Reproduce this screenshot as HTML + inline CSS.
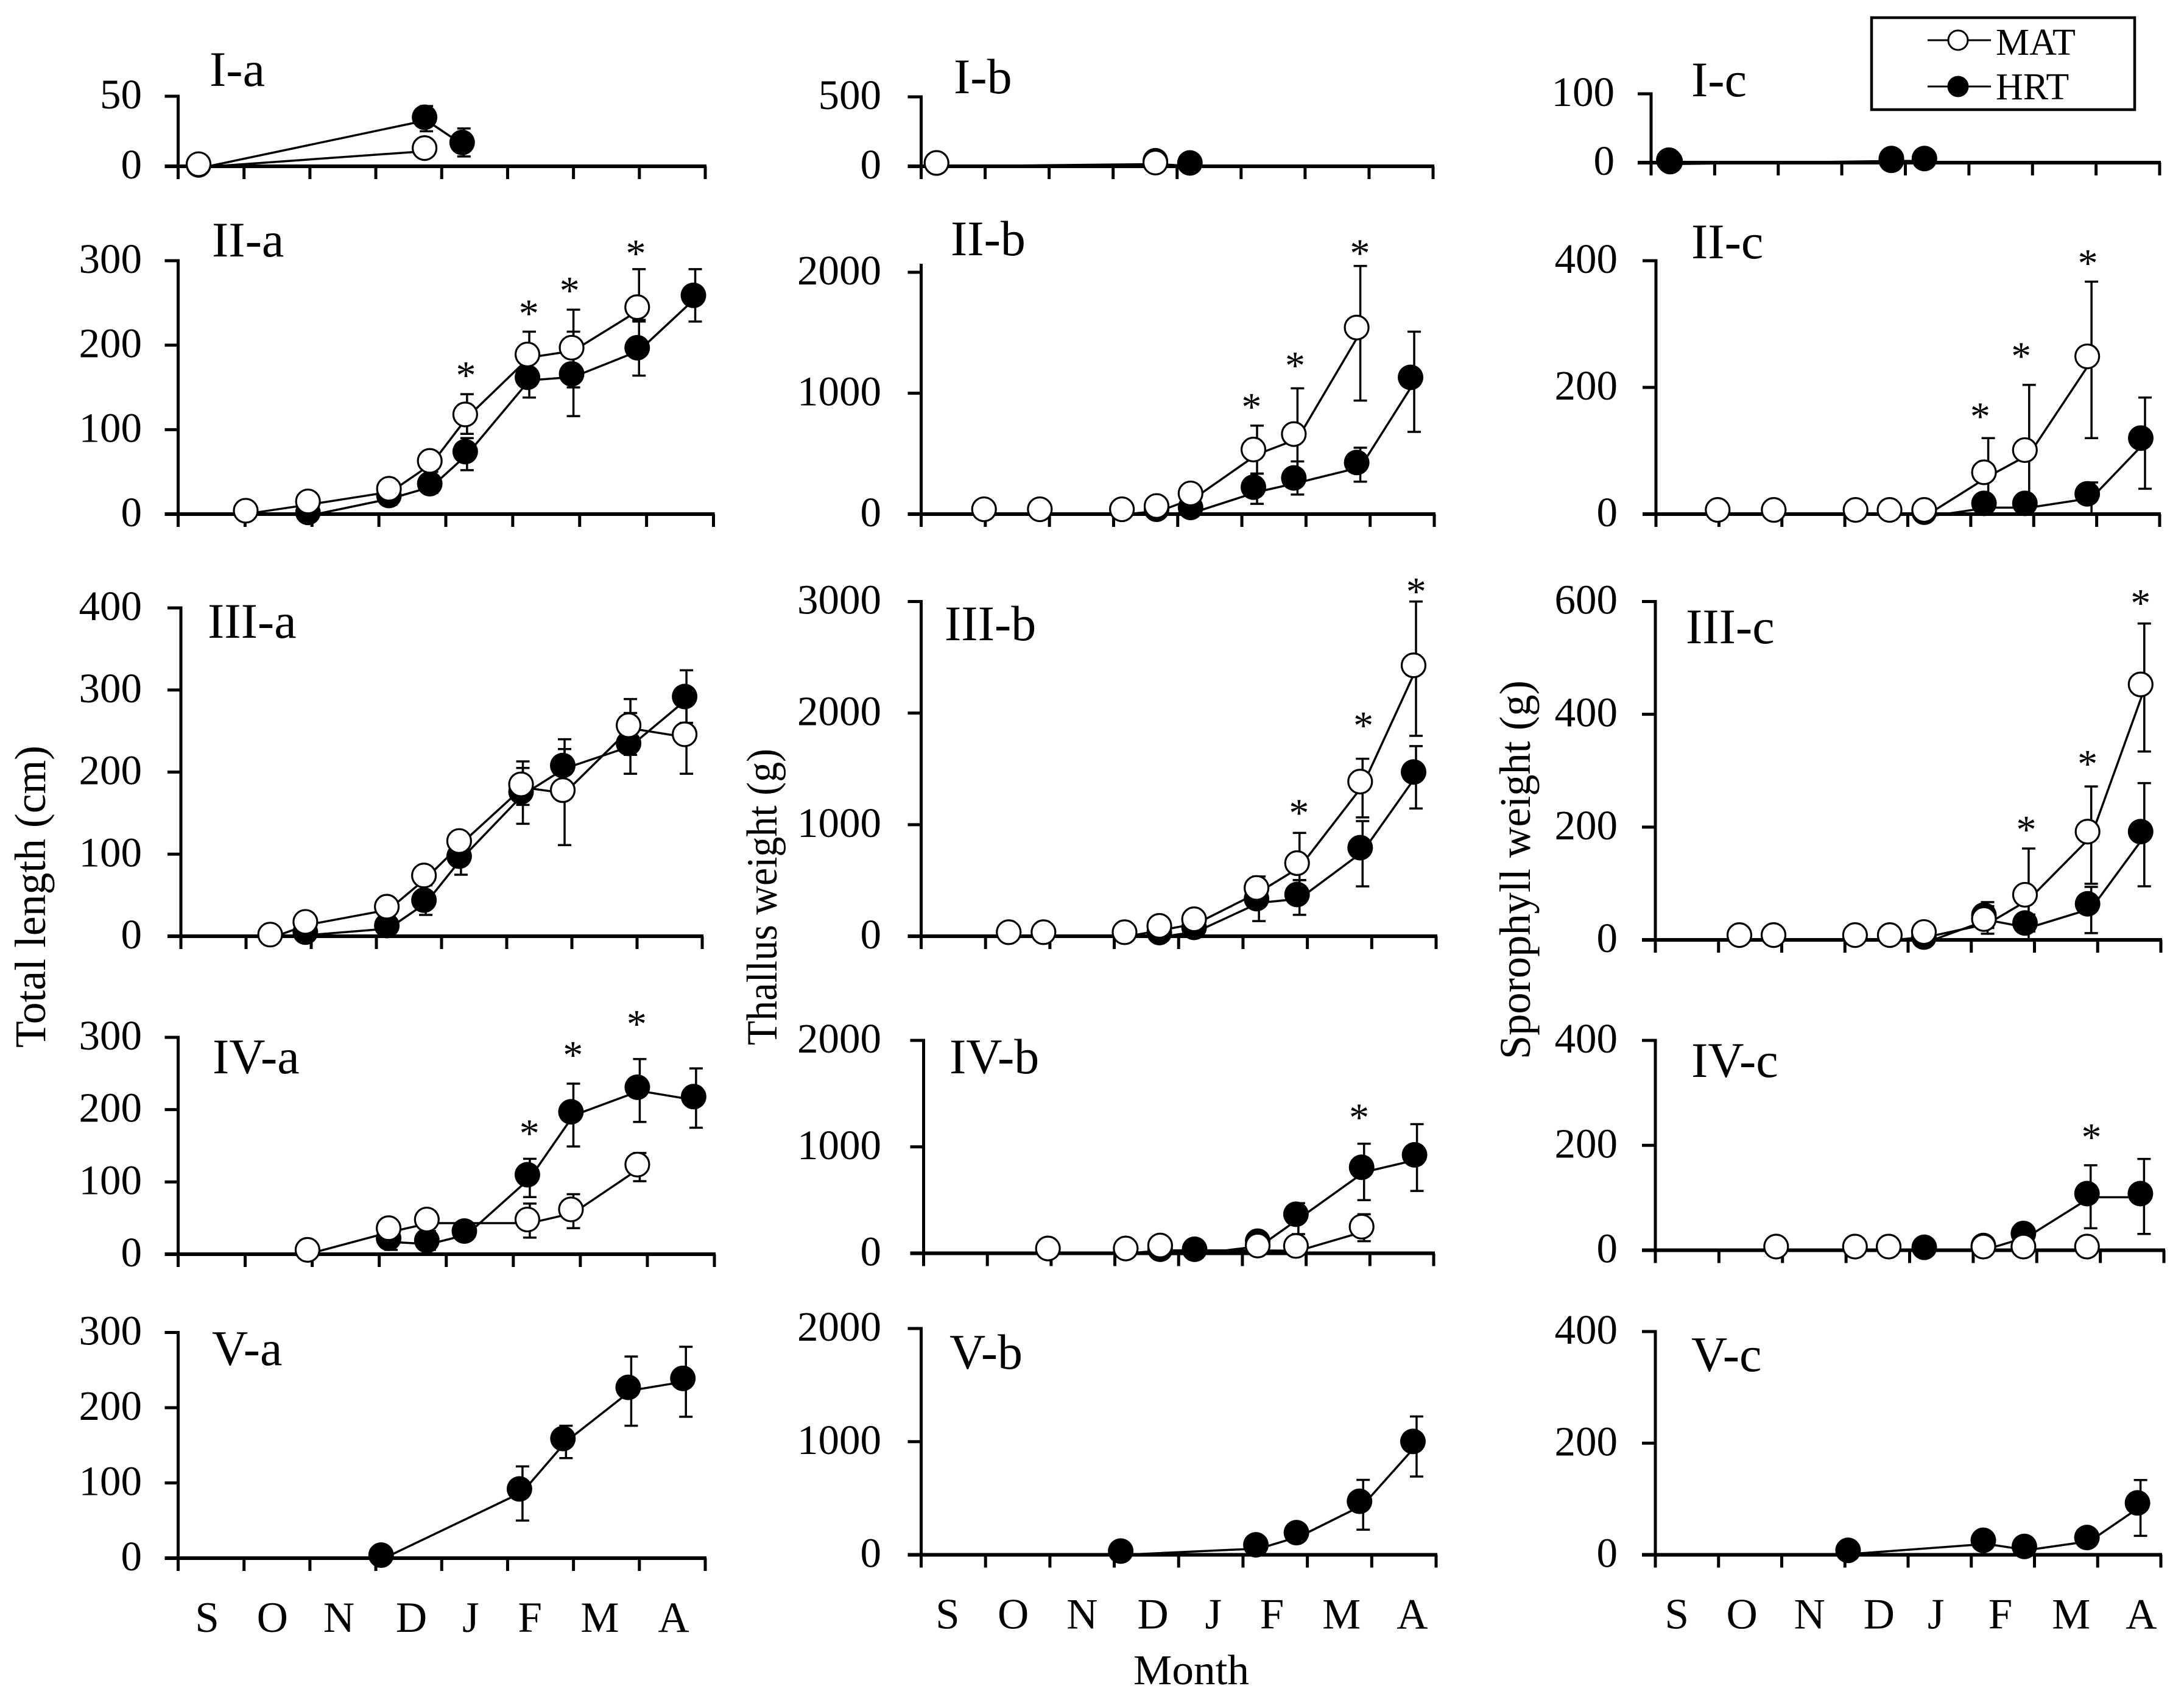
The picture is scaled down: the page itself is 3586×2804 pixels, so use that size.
<!DOCTYPE html>
<html lang="en">
<head>
<meta charset="utf-8">
<title>Seasonal growth of MAT and HRT: total length, thallus weight and sporophyll weight</title>
<style>
html,body{margin:0;padding:0;background:#fff}
svg{display:block}
text{font-family:"Liberation Serif","Times New Roman",serif;fill:#000}
</style>
</head>
<body>
<svg id="chart" xmlns="http://www.w3.org/2000/svg" width="3586" height="2804" viewBox="0 0 3586 2804"></svg>
<script>
// Values are in axis units: month position (0 = start of Sept, 8 = end of April) and measured value.
const Ia_mat_m=[0.31,3.74], Ia_mat_v=[1.5,13], Ia_mat_hi=[null,null], Ia_mat_lo=[null,null];
const Ia_hrt_m=[0.31,3.74,4.31], Ia_hrt_v=[1,35,17], Ia_hrt_hi=[null,43,27], Ia_hrt_lo=[null,25,7];
const IIa_mat_m=[1.01,1.94,3.15,3.76,4.29,5.22,5.88,6.86], IIa_mat_v=[4,15,30,63,118,189,197,245];
const IIa_mat_hi=[null,null,41,86,142,216,242,290], IIa_mat_lo=[null,null,null,null,95,162,150,228];
const IIa_hrt_m=[1.94,3.15,3.76,4.29,5.22,5.88,6.86,7.7], IIa_hrt_v=[2,22,36,74,162,166,197,259];
const IIa_hrt_hi=[null,33,50,90,186,216,230,290], IIa_hrt_lo=[null,11,25,52,138,116,164,228];
const IIIa_mat_m=[1.37,1.91,3.16,3.73,4.27,5.22,5.86,6.87,7.73], IIIa_mat_v=[2,17.5,36,74,116,185,178,257,246];
const IIIa_mat_hi=[null,null,49,98,140,205,228,289,290], IIIa_mat_lo=[null,null,null,null,null,160,111,221,198];
const IIIa_hrt_m=[1.91,3.16,3.73,4.27,5.22,5.86,6.87,7.73], IIIa_hrt_v=[5,13,44,97.5,176,208,235,292];
const IIIa_hrt_hi=[null,null,62,120,213,240,272,324], IIIa_hrt_lo=[null,null,26,75,137,175,198,260];
const IVa_mat_m=[1.93,3.14,3.71,5.21,5.86,6.85], IVa_mat_v=[6,36,48,48,62,124];
const IVa_mat_hi=[null,null,66,70,83,140], IVa_mat_lo=[null,null,null,23,36,101];
const IVa_hrt_m=[3.14,3.71,4.27,5.21,5.86,6.85,7.69], IVa_hrt_v=[22,19,32,110,197,231,218];
const IVa_hrt_hi=[38,32,null,132,236,270,257], IVa_hrt_lo=[6,6,null,79,149,183,175];
const Va_mat_m=[], Va_mat_v=[], Va_mat_hi=[], Va_mat_lo=[];
const Va_hrt_m=[3.08,5.18,5.84,6.83,7.66], Va_hrt_v=[4,92,159,227,239];
const Va_hrt_hi=[null,122,176,268,281], Va_hrt_lo=[null,50,133,176,188];

const Ib_mat_m=[0.24,3.66], Ib_mat_v=[24,27], Ib_mat_hi=[null,null], Ib_mat_lo=[null,null];
const Ib_hrt_m=[0.24,3.66,4.2], Ib_hrt_v=[24,40,24], Ib_hrt_hi=[null,null,null], Ib_hrt_lo=[null,null,null];
const IIb_mat_m=[0.98,1.85,3.13,3.67,4.2,5.18,5.81,6.79], IIb_mat_v=[40,40,40,67,171,534,662,1543];
const IIb_mat_hi=[null,null,null,null,null,732,1040,2052], IIb_mat_lo=[null,null,null,null,null,335,284,939];
const IIb_hrt_m=[3.67,4.2,5.18,5.81,6.79,7.63], IIb_hrt_v=[40,55,223,299,427,1131];
const IIb_hrt_hi=[null,null,335,436,549,1509], IIb_hrt_lo=[null,null,85,162,268,680];
const IIIb_mat_m=[1.36,1.9,3.16,3.7,4.24,5.21,5.84,6.82,7.65], IIIb_mat_v=[36,36,36,93,152,433,655,1386,2428];
const IIIb_mat_hi=[null,null,null,null,null,null,926,1591,3000], IIIb_mat_lo=[null,null,null,null,null,null,503,1065,1796];
const IIIb_hrt_m=[3.7,4.24,5.21,5.84,6.82,7.65], IIIb_hrt_v=[33,79,337,374,794,1472];
const IIIb_hrt_hi=[null,null,536,503,1032,1704], IIIb_hrt_lo=[null,null,136,192,447,1145];
const IVb_mat_m=[1.95,3.17,3.71,5.24,5.84,6.87], IVb_mat_v=[45,45,73,73,69,250];
const IVb_mat_hi=[null,null,null,null,null,367], IVb_mat_lo=[null,null,null,null,null,114];
const IVb_hrt_m=[3.71,4.25,5.24,5.84,6.87,7.7], IVb_hrt_v=[38,38,114,367,808,925];
const IVb_hrt_hi=[null,null,null,471,1029,1213], IVb_hrt_lo=[null,null,null,180,499,586];
const Vb_mat_m=[], Vb_mat_v=[], Vb_mat_hi=[], Vb_mat_lo=[];
const Vb_hrt_m=[3.1,5.2,5.83,6.81,7.64], Vb_hrt_v=[33,88,196,473,1002];
const Vb_hrt_hi=[null,null,null,662,1223], Vb_hrt_lo=[null,null,null,222,692];

const Ic_mat_m=[0.28,3.78], Ic_mat_v=[3.5,3.5], Ic_mat_hi=[null,null], Ic_mat_lo=[null,null];
const Ic_hrt_m=[0.3,3.78,4.3], Ic_hrt_v=[1.5,6,6], Ic_hrt_hi=[null,null,null], Ic_hrt_lo=[null,null,null];
const IIc_mat_m=[0.98,1.87,3.17,3.71,4.26,5.21,5.86,6.85], IIc_mat_v=[6.6,6.6,6.6,6.6,6.6,66,101,249];
const IIc_mat_hi=[null,null,null,null,null,120,204,367], IIc_mat_lo=[null,null,null,null,null,13,17,120];
const IIc_hrt_m=[4.26,5.21,5.86,6.85,7.7], IIc_hrt_v=[3,17,17,32,120];
const IIc_hrt_hi=[null,null,null,50,184], IIc_hrt_lo=[null,null,null,0,40];
const IIIc_mat_m=[1.33,1.87,3.16,3.71,4.25,5.2,5.85,6.84,7.68], IIIc_mat_v=[8.5,8.5,8.5,8.5,14,37,80,192,453];
const IIIc_mat_hi=[null,null,null,null,null,60,162,272,561], IIIc_mat_lo=[null,null,null,null,null,11,0,99.5,334];
const IIIc_hrt_m=[4.25,5.2,5.85,6.84,7.68], IIIc_hrt_v=[5,44,30,64,192];
const IIIc_hrt_hi=[null,67,45,94,278], IIIc_hrt_lo=[null,21,15,12,95];
const IVc_mat_m=[1.9,3.14,3.67,5.16,5.79,6.79], IVc_mat_v=[7,7,7,7,7,7];
const IVc_mat_hi=[null,null,null,null,null,null], IVc_mat_lo=[null,null,null,null,null,null];
const IVc_hrt_m=[4.23,5.16,5.79,6.79,7.63], IVc_hrt_v=[5.6,9,32,108,108];
const IVc_hrt_hi=[null,null,null,162,174], IVc_hrt_lo=[null,null,null,42,31];
const Vc_mat_m=[], Vc_mat_v=[], Vc_mat_hi=[], Vc_mat_lo=[];
const Vc_hrt_m=[3.05,5.19,5.84,6.83,7.63], Vc_hrt_v=[8,26,15,31,93];
const Vc_hrt_hi=[null,null,null,null,134], Vc_hrt_lo=[null,null,null,null,34];

// Significance markers: month position and value level.
const IIa_star_m=[4.3,5.24,5.85,6.84], IIa_star_v=[171,244,271,315];
const IIb_star_m=[5.15,5.83,6.84], IIb_star_v=[933,1274,2204];
const IIc_star_m=[5.15,5.8,6.86], IIc_star_v=[163,258,405];
const IIIb_star_m=[5.87,6.87,7.69], IIIb_star_v=[1154,1938,3139];
const IIIc_star_m=[5.87,6.84,7.68], IIIc_star_v=[205,322,607];
const IVa_star_m=[5.24,5.89,6.84], IVa_star_v=[175,283,326];
const IVb_star_m=[6.83], IVb_star_v=[1327];
const IVc_star_m=[6.86], IVc_star_v=[226];

// Tick labels.
const ticks_Ia=[0,50], ticks_300=[0,100,200,300], ticks_400a=[0,100,200,300,400];
const ticks_Ib=[0,500], ticks_2000=[0,1000,2000], ticks_3000=[0,1000,2000,3000];
const ticks_Ic=[0,100], ticks_400c=[0,200,400], ticks_600=[0,200,400,600];
const monthNames=['S','O','N','D','J','F','M','A'];
const monthLabelPos_a=[0.44,1.43,2.44,3.54,4.44,5.34,6.4,7.52];
const monthLabelPos_b=[0.41,1.43,2.5,3.6,4.54,5.45,6.53,7.63];
const monthLabelPos_c=[0.34,1.37,2.44,3.54,4.44,5.46,6.58,7.69];

// Panel frames: x0/x1 axis ends, top = pixel of the largest tick, y0 = pixel of zero.
// dx/dy: the source figure's markers sit slightly up-left of the line vertices and error bars.
const panels=[
 {id:'I-a',x0:292.5,x1:1158,top:158,y0:273,ticks:ticks_Ia,lx:344,ly:141,tr:233,dx:3,dy:5,mat:[Ia_mat_m,Ia_mat_v,Ia_mat_hi,Ia_mat_lo],hrt:[Ia_hrt_m,Ia_hrt_v,Ia_hrt_hi,Ia_hrt_lo],stars:null},
 {id:'II-a',x0:292.5,x1:1171.5,top:428,y0:844,ticks:ticks_300,lx:348,ly:421,tr:233,dx:3,dy:5,mat:[IIa_mat_m,IIa_mat_v,IIa_mat_hi,IIa_mat_lo],hrt:[IIa_hrt_m,IIa_hrt_v,IIa_hrt_hi,IIa_hrt_lo],stars:[IIa_star_m,IIa_star_v]},
 {id:'III-a',x0:297,x1:1153,top:998,y0:1537,ticks:ticks_400a,lx:341,ly:1047,tr:233,dx:3,dy:5,mat:[IIIa_mat_m,IIIa_mat_v,IIIa_mat_hi,IIIa_mat_lo],hrt:[IIIa_hrt_m,IIIa_hrt_v,IIIa_hrt_hi,IIIa_hrt_lo],stars:null},
 {id:'IV-a',x0:292.5,x1:1173,top:1703,y0:2059,ticks:ticks_300,lx:349,ly:1762,tr:233,dx:4,dy:6,mat:[IVa_mat_m,IVa_mat_v,IVa_mat_hi,IVa_mat_lo],hrt:[IVa_hrt_m,IVa_hrt_v,IVa_hrt_hi,IVa_hrt_lo],stars:[IVa_star_m,IVa_star_v]},
 {id:'V-a',x0:292.5,x1:1158,top:2187.5,y0:2558,ticks:ticks_300,lx:348,ly:2241,tr:233,dx:5,dy:5,mat:[Va_mat_m,Va_mat_v,Va_mat_hi,Va_mat_lo],hrt:[Va_hrt_m,Va_hrt_v,Va_hrt_hi,Va_hrt_lo],stars:null,months:monthLabelPos_a},
 {id:'I-b',x0:1512.5,x1:2353,top:159,y0:273,ticks:ticks_Ib,lx:1566,ly:153,tr:1447,dx:6,dy:5.5,mat:[Ib_mat_m,Ib_mat_v,Ib_mat_hi,Ib_mat_lo],hrt:[Ib_hrt_m,Ib_hrt_v,Ib_hrt_hi,Ib_hrt_lo],stars:null},
 {id:'II-b',x0:1512.5,x1:2355,top:447,y0:844,axisTop:433,ticks:ticks_2000,lx:1561,ly:419,tr:1447,dx:6,dy:8,mat:[IIb_mat_m,IIb_mat_v,IIb_mat_hi,IIb_mat_lo],hrt:[IIb_hrt_m,IIb_hrt_v,IIb_hrt_hi,IIb_hrt_lo],stars:[IIb_star_m,IIb_star_v]},
 {id:'III-b',x0:1512.5,x1:2358,top:987.5,y0:1537,ticks:ticks_3000,lx:1551,ly:1051,tr:1447,dx:4,dy:7,mat:[IIIb_mat_m,IIIb_mat_v,IIIb_mat_hi,IIIb_mat_lo],hrt:[IIIb_hrt_m,IIIb_hrt_v,IIIb_hrt_hi,IIIb_hrt_lo],stars:[IIIb_star_m,IIIb_star_v]},
 {id:'IV-b',x0:1516.5,x1:2354,top:1708,y0:2057.5,ticks:ticks_2000,lx:1559,ly:1762,tr:1447,dx:4,dy:8,mat:[IVb_mat_m,IVb_mat_v,IVb_mat_hi,IVb_mat_lo],hrt:[IVb_hrt_m,IVb_hrt_v,IVb_hrt_hi,IVb_hrt_lo],stars:[IVb_star_m,IVb_star_v]},
 {id:'V-b',x0:1512.5,x1:2358,top:2181,y0:2552.5,ticks:ticks_2000,lx:1559,ly:2247,tr:1447,dx:6,dy:6,mat:[Vb_mat_m,Vb_mat_v,Vb_mat_hi,Vb_mat_lo],hrt:[Vb_hrt_m,Vb_hrt_v,Vb_hrt_hi,Vb_hrt_lo],stars:null,months:monthLabelPos_b},
 {id:'I-c',x0:2711,x1:3546,top:154,y0:267,ticks:ticks_Ic,lx:2777,ly:158,tr:2651,dx:6,dy:4,hrtOnTop:true,mat:[Ic_mat_m,Ic_mat_v,Ic_mat_hi,Ic_mat_lo],hrt:[Ic_hrt_m,Ic_hrt_v,Ic_hrt_hi,Ic_hrt_lo],stars:null},
 {id:'II-c',x0:2719,x1:3546,top:428,y0:844,ticks:ticks_400c,lx:2777,ly:424,tr:2656,dx:7,dy:7,mat:[IIc_mat_m,IIc_mat_v,IIc_mat_hi,IIc_mat_lo],hrt:[IIc_hrt_m,IIc_hrt_v,IIc_hrt_hi,IIc_hrt_lo],stars:[IIc_star_m,IIc_star_v]},
 {id:'III-c',x0:2718,x1:3548,top:987.5,y0:1543,ticks:ticks_600,lx:2768,ly:1056,tr:2656,dx:6,dy:8,mat:[IIIc_mat_m,IIIc_mat_v,IIIc_mat_hi,IIIc_mat_lo],hrt:[IIIc_hrt_m,IIIc_hrt_v,IIIc_hrt_hi,IIIc_hrt_lo],stars:[IIIc_star_m,IIIc_star_v]},
 {id:'IV-c',x0:2718,x1:3553,top:1708,y0:2052.5,ticks:ticks_400c,lx:2777,ly:1768,tr:2656,dx:6,dy:6,mat:[IVc_mat_m,IVc_mat_v,IVc_mat_hi,IVc_mat_lo],hrt:[IVc_hrt_m,IVc_hrt_v,IVc_hrt_hi,IVc_hrt_lo],stars:[IVc_star_m,IVc_star_v]},
 {id:'V-c',x0:2718,x1:3548,top:2186,y0:2552.5,ticks:ticks_400c,lx:2777,ly:2251,tr:2656,dx:5,dy:6,mat:[Vc_mat_m,Vc_mat_v,Vc_mat_hi,Vc_mat_lo],hrt:[Vc_hrt_m,Vc_hrt_v,Vc_hrt_hi,Vc_hrt_lo],stars:null,months:monthLabelPos_c}
];

const NS='http://www.w3.org/2000/svg';
const root=document.getElementById('chart');
function make(tag,attrs,parent,txt){
  const e=document.createElementNS(NS,tag);
  for(const k in attrs){e.setAttribute(k,attrs[k]);}
  if(txt!==undefined){e.textContent=txt;}
  parent.appendChild(e);
  return e;
}
function drawLine(parent,x1,y1,x2,y2,w){
  return make('line',{x1:x1,y1:y1,x2:x2,y2:y2,stroke:'#000','stroke-width':w},parent);
}
function drawSeries(p,g,arrs,key,X,Y){
  const m=arrs[0],v=arrs[1],hi=arrs[2],lo=arrs[3];
  if(!m.length){return;}
  const sg=make('g',{},g);
  
  
  const pl=make('polyline',{points:m.map(function(d,i){return (X(d)+p.dx)+','+(Y(v[i])+p.dy);}).join(' '),fill:'none',stroke:'#000','stroke-width':3.5},sg);
  
  
  m.forEach(function(d,i){
    const bx=X(d)+p.dx;
    if(hi[i]!==null&&lo[i]!==null){
      const stem=drawLine(sg,bx,Y(hi[i]),bx,Y(lo[i]),3.5);
      
      
      [hi[i],lo[i]].forEach(function(b){
        const cap=drawLine(sg,bx-11,Y(b),bx+11,Y(b),3.5);
        
        
      });
    }
  });
  m.forEach(function(d,i){
    const c=make('circle',{cx:X(d),cy:Y(v[i]),r:key==='mat'?19.5:21,fill:key==='mat'?'#fff':'#000',stroke:'#000','stroke-width':key==='mat'?3.2:0},sg);
    
    
  });
}
panels.forEach(function(p){
  const max=p.ticks[p.ticks.length-1];
  const X=function(m){return p.x0+m/8*(p.x1-p.x0);};
  const Y=function(v){return p.y0-v/max*(p.y0-p.top);};
  const g=make('g',{},root);
  
  
  const yAxis=drawLine(g,p.x0,p.axisTop||p.top-2.5,p.x0,p.y0+21,5);
  
  
  const xAxis=drawLine(g,p.x0-22,p.y0,p.x1+2,p.y0,6);
  
  
  p.ticks.forEach(function(t){
    const tk=drawLine(g,p.x0-22,Y(t),p.x0,Y(t),5);
    
    
    const lb=make('text',{x:p.tr,y:Y(t)+20,'text-anchor':'end','font-size':69},g,String(t));
    
    
  });
  for(let i=0;i<=8;i++){
    const tk=drawLine(g,X(i),p.y0,X(i),p.y0+21,5);
    
    
  }
  const title=make('text',{x:p.lx,y:p.ly,'font-size':82},g,p.id);
  
  
  if(p.months){
    monthNames.forEach(function(n,i){
      const ml=make('text',{x:X(p.months[i]),y:p.y0+121,'text-anchor':'middle','font-size':71},g,n);
      
      
    });
  }
  if(p.hrtOnTop){
    drawSeries(p,g,p.mat,'mat',X,Y);
    drawSeries(p,g,p.hrt,'hrt',X,Y);
  }else{
    drawSeries(p,g,p.hrt,'hrt',X,Y);
    drawSeries(p,g,p.mat,'mat',X,Y);
  }
  if(p.stars){
    p.stars[0].forEach(function(m,i){
      const st=make('text',{x:X(m),y:Y(p.stars[1][i])+31,'text-anchor':'middle','font-size':66},g,'*');
      
      
    });
  }
});

// Axis titles
const t1=make('text',{transform:'translate(74,1720) rotate(-90)','font-size':72,textLength:496,lengthAdjust:'spacingAndGlyphs'},root,'Total length (cm)');


const t2=make('text',{transform:'translate(1275,1716) rotate(-90)','font-size':71,textLength:487,lengthAdjust:'spacingAndGlyphs'},root,'Thallus weight (g)');


const t3=make('text',{transform:'translate(2512,1739) rotate(-90)','font-size':72,textLength:622,lengthAdjust:'spacingAndGlyphs'},root,'Sporophyll weight (g)');


const t4=make('text',{x:1956,y:2765,'text-anchor':'middle','font-size':70,textLength:190,lengthAdjust:'spacingAndGlyphs'},root,'Month');



// Legend
const lg=make('g',{},root);


const box=make('rect',{x:3073,y:29,width:432,height:151,fill:'#fff',stroke:'#000','stroke-width':4.5},lg);


const l1=drawLine(lg,3165,66,3269,66,3);


const c1=make('circle',{cx:3215,cy:66,r:16,fill:'#fff',stroke:'#000','stroke-width':3},lg);


const x1=make('text',{x:3277,y:90,'font-size':62},lg,'MAT');


const l2=drawLine(lg,3165,142,3269,142,3);


const c2=make('circle',{cx:3215,cy:142,r:17.5,fill:'#000'},lg);


const x2=make('text',{x:3277,y:163,'font-size':62},lg,'HRT');


</script>
</body>
</html>
